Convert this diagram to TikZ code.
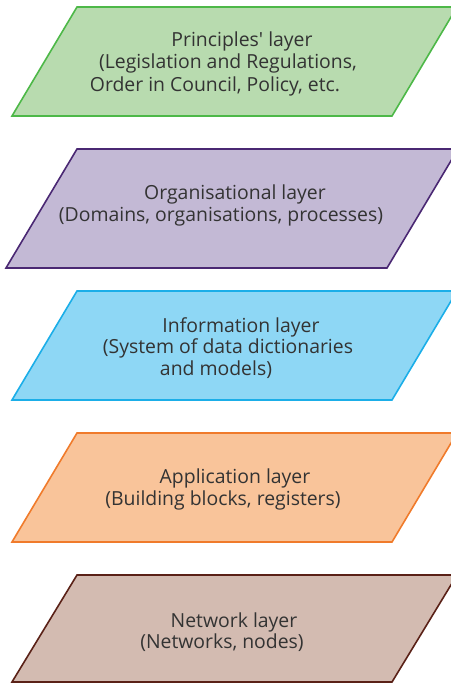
\documentclass[tikz,border=0pt]{standalone}
\usepackage{fontspec}
\setmainfont{Open Sans}[Ligatures=TeXOff]
\definecolor{txt}{HTML}{333333}
\definecolor{gfill}{HTML}{B8DBAF}\definecolor{gline}{HTML}{4DB848}
\definecolor{pfill}{HTML}{C3B9D5}\definecolor{pline}{HTML}{4A2873}
\definecolor{bfill}{HTML}{8ED7F5}\definecolor{bline}{HTML}{1BAEE8}
\definecolor{ofill}{HTML}{F9C49A}\definecolor{oline}{HTML}{F07B2B}
\definecolor{nfill}{HTML}{D3BBB1}\definecolor{nline}{HTML}{5A2117}
\begin{document}
\begin{tikzpicture}[x=1pt,y=-1pt,
  layer/.style={line width=1.6pt,line join=miter},
  lbl/.style={anchor=base,inner sep=0pt,text=txt,font=\fontsize{19.4}{22}\selectfont}]
\useasboundingbox (0,0) rectangle (450,684);
% Principles
\coordinate (p1a) at (77,7); \coordinate (p1b) at (457,7);
\coordinate (p1c) at (392,116); \coordinate (p1d) at (12,116);
\draw[layer,draw=gline,fill=gfill] (p1a) -- (p1b) -- (p1c) -- (p1d) -- cycle;
\node[lbl] (t1a) at (242,47) {Principles' layer};
\node[lbl] (t1b) at (228,69) {(Legislation and Regulations,};
\node[lbl] (t1c) at (215,92) {Order in Council, Policy, etc.};
% Organisational
\coordinate (p2a) at (77,149); \coordinate (p2b) at (458,149);
\coordinate (p2c) at (387,268); \coordinate (p2d) at (6,268);
\draw[layer,draw=pline,fill=pfill] (p2a) -- (p2b) -- (p2c) -- (p2d) -- cycle;
\node[lbl] (t2a) at (235,200) {Organisational layer};
\node[lbl] (t2b) at (221,222) {(Domains, organisations, processes)};
% Information
\coordinate (p3a) at (77,291); \coordinate (p3b) at (457,291);
\coordinate (p3c) at (392,400); \coordinate (p3d) at (12,400);
\draw[layer,draw=bline,fill=bfill] (p3a) -- (p3b) -- (p3c) -- (p3d) -- cycle;
\node[lbl] (t3a) at (241,332) {Information layer};
\node[lbl] (t3b) at (228,353) {(System of data dictionaries};
\node[lbl] (t3c) at (216,375) {and models)};
% Application
\coordinate (p4a) at (77,433); \coordinate (p4b) at (457,433);
\coordinate (p4c) at (392,542); \coordinate (p4d) at (12,542);
\draw[layer,draw=oline,fill=ofill] (p4a) -- (p4b) -- (p4c) -- (p4d) -- cycle;
\node[lbl] (t4a) at (235,483) {Application layer};
\node[lbl] (t4b) at (223,505) {(Building blocks, registers)};
% Network
\coordinate (p5a) at (77,575); \coordinate (p5b) at (457,575);
\coordinate (p5c) at (392,682); \coordinate (p5d) at (12,682);
\draw[layer,draw=nline,fill=nfill] (p5a) -- (p5b) -- (p5c) -- (p5d) -- cycle;
\node[lbl] (t5a) at (234,627) {Network layer};
\node[lbl] (t5b) at (222,648) {(Networks, nodes)};
\end{tikzpicture}
\end{document}
